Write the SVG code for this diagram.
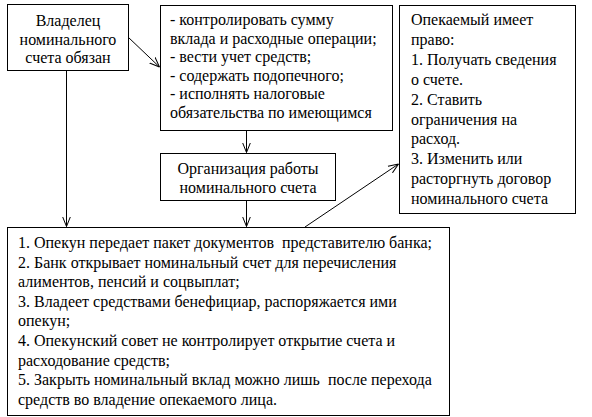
<svg xmlns="http://www.w3.org/2000/svg" width="592" height="417" viewBox="0 0 592 417">
<defs>
<style>
rect.box{fill:#fff;stroke:#000;stroke-width:1}
.conn line{stroke:#000;stroke-width:1;fill:none}
text{font-family:'Liberation Serif', serif;font-size:16px;fill:#000}
.c text{text-anchor:middle}
</style>
<marker id="arr" viewBox="0 0 10 10" refX="10" refY="5" markerWidth="10" markerHeight="10" markerUnits="userSpaceOnUse" orient="auto">
<path d="M0,1 L10,5 L0,9" fill="none" stroke="#000" stroke-width="1"/>
</marker>
</defs>
<rect width="592" height="417" fill="#fff"/>
<g id="connectors" class="conn">
<line x1="128" y1="37" x2="159.5" y2="67" marker-end="url(#arr)"/>
<line x1="66.5" y1="70" x2="66.5" y2="226.5" marker-end="url(#arr)"/>
<line x1="246.5" y1="130" x2="246.5" y2="152.5" marker-end="url(#arr)"/>
<line x1="246.5" y1="200" x2="246.5" y2="226.5" marker-end="url(#arr)"/>
<line x1="305" y1="227" x2="398.5" y2="164" marker-end="url(#arr)"/>
</g>
<g id="node-owner" class="c">
<rect class="box" x="7.5" y="4.5" width="121" height="66"/>
<text x="68" y="26">Владелец</text>
<text x="68" y="44.5">номинального</text>
<text x="68" y="63">счета обязан</text>
</g>
<g id="node-duties">
<rect class="box" x="160.5" y="5.5" width="232" height="125"/>
<text x="170" y="25">- контролировать сумму</text>
<text x="170" y="43.6">вклада и расходные операции;</text>
<text x="170" y="62.2">- вести учет средств;</text>
<text x="170" y="80.8">- содержать подопечного;</text>
<text x="170" y="99.4">- исполнять налоговые</text>
<text x="170" y="118">обязательства по имеющимся</text>
</g>
<g id="node-rights">
<rect class="box" x="399.5" y="5.5" width="176" height="208"/>
<text x="411" y="25">Опекаемый имеет</text>
<text x="411" y="44.9">право:</text>
<text x="411" y="64.8">1. Получать сведения</text>
<text x="411" y="84.7">о счете.</text>
<text x="411" y="104.6">2. Ставить</text>
<text x="411" y="124.5">ограничения на</text>
<text x="411" y="144.4">расход.</text>
<text x="411" y="164.3">3. Изменить или</text>
<text x="411" y="184.2">расторгнуть договор</text>
<text x="411" y="204.1">номинального счета</text>
</g>
<g id="node-organization" class="c">
<rect class="box" x="160.5" y="153.5" width="175" height="47"/>
<text x="248" y="174">Организация работы</text>
<text x="248" y="193">номинального счета</text>
</g>
<g id="node-details">
<rect class="box" x="7.5" y="227.5" width="442" height="188"/>
<text x="18" y="248" xml:space="preserve">1. Опекун передает пакет документов  представителю банка;</text>
<text x="18" y="267.6">2. Банк открывает номинальный счет для перечисления</text>
<text x="18" y="287.2">алиментов, пенсий и соцвыплат;</text>
<text x="18" y="306.8">3. Владеет средствами бенефициар, распоряжается ими</text>
<text x="18" y="326.4">опекун;</text>
<text x="18" y="346">4. Опекунский совет не контролирует открытие счета и</text>
<text x="18" y="365.6">расходование средств;</text>
<text x="18" y="385.2" xml:space="preserve">5. Закрыть номинальный вклад можно лишь  после перехода</text>
<text x="18" y="404.8">средств во владение опекаемого лица.</text>
</g>
</svg>
